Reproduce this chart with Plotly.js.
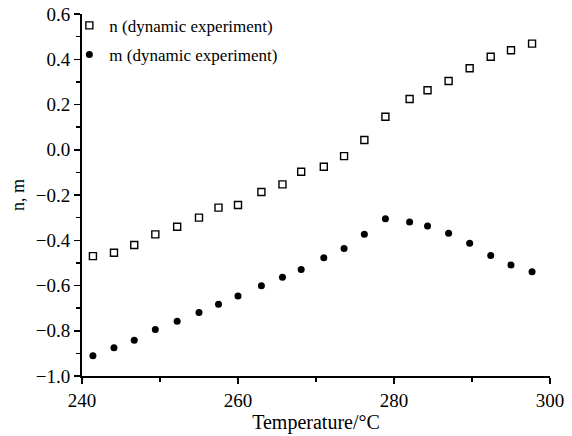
<!DOCTYPE html>
<html>
<head>
<meta charset="utf-8">
<script src="https://cdn.plot.ly/plotly-3.0.1.min.js"></script>
<style>html,body{margin:0;padding:0;background:#fff;}#chart{width:572px;height:436px;}</style>
</head>
<body>
<div id="chart"></div>
<script>
const temperature = [241.4, 244.1, 246.7, 249.4, 252.2, 255.0, 257.5, 260.0, 263.0, 265.7, 268.1, 271.0, 273.6, 276.2, 278.9, 282.0, 284.3, 287.0, 289.7, 292.4, 295.0, 297.7];
const nValues = [-0.470, -0.455, -0.421, -0.374, -0.340, -0.300, -0.256, -0.244, -0.187, -0.153, -0.097, -0.075, -0.028, 0.043, 0.146, 0.224, 0.263, 0.304, 0.360, 0.411, 0.440, 0.469];
const mValues = [-0.910, -0.875, -0.842, -0.794, -0.758, -0.719, -0.683, -0.646, -0.601, -0.564, -0.529, -0.477, -0.436, -0.374, -0.305, -0.319, -0.337, -0.369, -0.413, -0.467, -0.509, -0.539];
const seriesNames = ['n (dynamic experiment)', 'm (dynamic experiment)'];
const xTicks = [240, 260, 280, 300];
const yTicks = [0.6, 0.4, 0.2, 0.0, -0.2, -0.4, -0.6, -0.8, -1.0];

const FONT = 'Liberation Serif';

const traces = [
  {x: temperature, y: nValues, name: seriesNames[0], mode: 'markers', type: 'scatter', legendgroup: 'a',
   marker: {symbol: 'square-open', size: 7, color: '#000', line: {width: 1.4, color: '#000'}}},
  {x: temperature, y: mValues, name: seriesNames[1], mode: 'markers', type: 'scatter', legendgroup: 'b',
   marker: {symbol: 'circle', size: 7, color: '#000'}}
];

const layout = {
  width: 572, height: 436,
  margin: {l: 81.5, r: 22, t: 14, b: 60, autoexpand: false},
  paper_bgcolor: '#fff', plot_bgcolor: '#fff',
  font: {family: FONT, size: 18, color: '#000'},
  showlegend: true,
  legend: {x: -0.027, y: 1.017, xanchor: 'left', yanchor: 'top', bgcolor: 'rgba(0,0,0,0)',
    font: {family: FONT, size: 17, color: '#000'}, traceorder: 'grouped', tracegroupgap: 4},
  xaxis: {
    range: [240, 300], tickvals: xTicks, ticktext: xTicks.map(String),
    showgrid: false, zeroline: false, showline: true, linecolor: '#000', linewidth: 2,
    ticks: 'outside', ticklen: 6, tickwidth: 1.5, tickcolor: '#000',
    minor: {dtick: 10, tick0: 240, ticks: 'outside', ticklen: 4, tickwidth: 1.5, tickcolor: '#000'},
    tickfont: {family: FONT, size: 19, color: '#000'},
    title: {text: 'Temperature/°C', font: {family: FONT, size: 20, color: '#000'}, standoff: 3}
  },
  yaxis: {
    range: [-1.0, 0.6], tickvals: yTicks, ticktext: yTicks.map(v => v.toFixed(1).replace('-', '\u2212')),
    showgrid: false, zeroline: false, showline: true, linecolor: '#000', linewidth: 2,
    ticks: 'outside', ticklen: 6, tickwidth: 1.5, tickcolor: '#000',
    minor: {dtick: 0.1, tick0: 0, ticks: 'outside', ticklen: 4, tickwidth: 1.5, tickcolor: '#000'},
    tickfont: {family: FONT, size: 19, color: '#000'},
    title: {text: 'n, m', font: {family: FONT, size: 18, color: '#000'}, standoff: 6}
  }
};

Plotly.newPlot('chart', traces, layout, {displayModeBar: false, staticPlot: true});
</script>
</body>
</html>
